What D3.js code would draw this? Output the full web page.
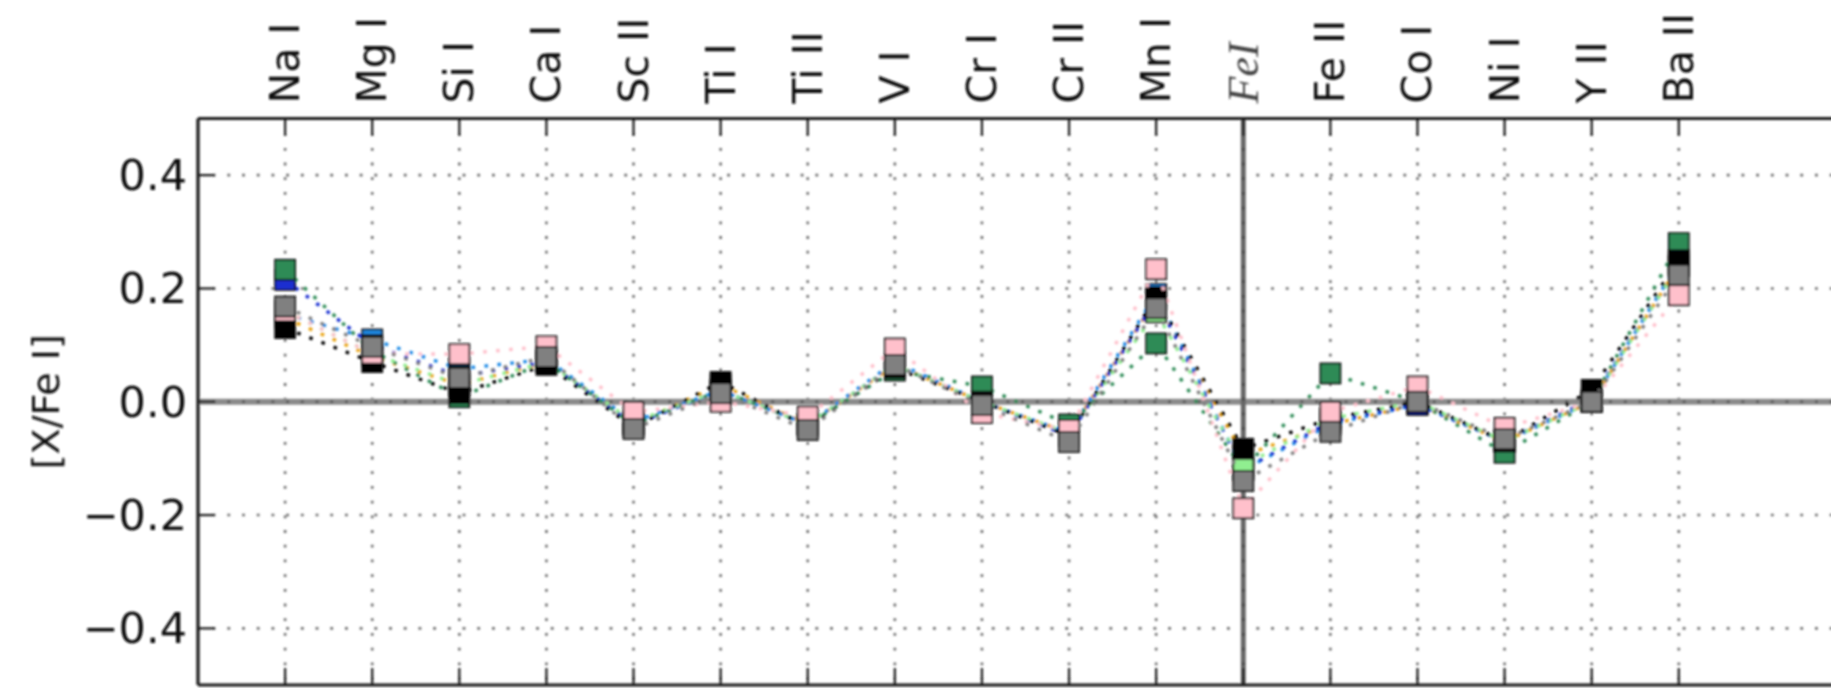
<!DOCTYPE html>
<html>
<head>
<meta charset="utf-8">
<script src="https://cdnjs.cloudflare.com/ajax/libs/d3/7.8.5/d3.min.js"></script>
<style>
  html, body { margin: 0; padding: 0; background: #fff; }
  svg { display: block; }
</style>
</head>
<body>
<svg id="chart" width="1831" height="688"></svg>
<script>
// Categories (species)
const categories = ["Na I", "Mg I", "Si I", "Ca I", "Sc II", "Ti I", "Ti II", "V I", "Cr I", "Cr II", "Mn I", "FeI", "Fe II", "Co I", "Ni I", "Y II", "Ba II"];
const refCategory = "FeI";
const yTicks = [-0.4, -0.2, 0.0, 0.2, 0.4];
const yLabel = "[X/Fe I]";

// Series values, in draw order (bottom to top)
const orangeVals     = [0.148, 0.080, 0.030, 0.070, -0.040, 0.030, -0.040, 0.065, 0.000, -0.055, 0.180, -0.095, -0.040, -0.005, -0.070, 0.000, 0.240];
const dodgerVals     = [0.155, 0.110, 0.058, 0.075, -0.035, 0.020, -0.040, 0.070, 0.000, -0.055, 0.190, -0.120, -0.040, -0.005, -0.070, 0.000, 0.245];
const blueVals       = [0.215, 0.100, 0.045, 0.070, -0.040, 0.020, -0.040, 0.065, 0.000, -0.060, 0.180, -0.120, -0.035, -0.005, -0.070, 0.005, 0.240];
const greenVals      = [0.233, 0.090, 0.008, 0.070, -0.040, 0.020, -0.040, 0.055, 0.027, -0.040, 0.103, -0.120, 0.050, 0.000, -0.090, 0.000, 0.280];
const lightgreenVals = [0.160, 0.085, 0.030, 0.070, -0.035, 0.020, -0.040, 0.065, 0.000, -0.055, 0.158, -0.113, -0.030, 0.000, -0.070, 0.000, 0.240];
const blackVals      = [0.130, 0.070, 0.015, 0.065, -0.045, 0.035, -0.045, 0.060, 0.000, -0.060, 0.185, -0.083, -0.030, 0.000, -0.070, 0.021, 0.250];
const pinkVals       = [0.160, 0.085, 0.084, 0.098, -0.018, 0.000, -0.026, 0.094, -0.020, -0.050, 0.234, -0.188, -0.018, 0.027, -0.046, 0.000, 0.188];
const grayVals       = [0.168, 0.097, 0.042, 0.079, -0.048, 0.015, -0.050, 0.065, -0.006, -0.071, 0.165, -0.140, -0.053, 0.000, -0.066, 0.000, 0.224];

const seriesNames  = ["orange", "dodgerblue", "blue", "green", "lightgreen", "black", "pink", "gray"];
const seriesColors = ["#e9a20c", "#1e8ae6", "#1a2fd0", "#2e8b57", "#90ee90", "#000000", "#ffc0cb", "#808080"];
const seriesValues = [orangeVals, dodgerVals, blueVals, greenVals, lightgreenVals, blackVals, pinkVals, grayVals];

const svg = d3.select("#chart");
const W = 1831, H = 688;
svg.append("rect").attr("width", W).attr("height", H).attr("fill", "#fff");

const defs = svg.append("defs");
defs.append("filter").attr("id", "soft")
  .attr("x", "-5%").attr("y", "-5%").attr("width", "110%").attr("height", "110%")
  .append("feGaussianBlur").attr("stdDeviation", 0.8);

const root = svg.append("g").attr("filter", "url(#soft)");

const x = d3.scaleLinear().domain([-1, categories.length + 1]).range([198, 1853]);
const y = d3.scaleLinear().domain([-0.5, 0.5]).range([685, 118.5]);
const xLeft = x.range()[0], xRight = x.range()[1];
const yTop = y.range()[1], yBot = y.range()[0];

defs.append("clipPath").attr("id", "plotclip").append("rect")
  .attr("x", xLeft).attr("y", yTop).attr("width", xRight - xLeft).attr("height", yBot - yTop);

const plot = root.append("g").attr("clip-path", "url(#plotclip)");

// Grid lines (dotted)
const gridColor = "#6e6e6e";
plot.append("g").selectAll("line").data(categories).join("line")
  .attr("x1", (d, i) => x(i)).attr("x2", (d, i) => x(i))
  .attr("y1", yTop).attr("y2", yBot)
  .attr("stroke", gridColor).attr("stroke-width", 2.6)
  .attr("stroke-dasharray", "2.8,11.9");
plot.append("g").selectAll("line").data(yTicks).join("line")
  .attr("x1", xLeft).attr("x2", xRight)
  .attr("y1", d => y(d)).attr("y2", d => y(d))
  .attr("stroke", gridColor).attr("stroke-width", 2.6)
  .attr("stroke-dasharray", "2.8,11.9");

// Reference lines
plot.append("line")
  .attr("x1", xLeft).attr("x2", xRight).attr("y1", y(0)).attr("y2", y(0))
  .attr("stroke", "#8a8a8a").attr("stroke-width", 6);
plot.append("line")
  .attr("x1", xLeft).attr("x2", xRight).attr("y1", y(0)).attr("y2", y(0))
  .attr("stroke", "#555").attr("stroke-width", 2.4)
  .attr("stroke-dasharray", "2.8,11.9");
const refIdx = categories.indexOf(refCategory);
plot.append("line")
  .attr("x1", x(refIdx)).attr("x2", x(refIdx)).attr("y1", yTop).attr("y2", yBot)
  .attr("stroke", "#666").attr("stroke-width", 5);
plot.append("line")
  .attr("x1", x(refIdx)).attr("x2", x(refIdx)).attr("y1", yTop).attr("y2", yBot)
  .attr("stroke", "#444").attr("stroke-width", 2.4)
  .attr("stroke-dasharray", "2.8,11.9");

// Series: dotted line + square markers
const line = d3.line().x((d, i) => x(i)).y(d => y(d));
const ms = 20;
seriesValues.forEach((vals, si) => {
  const g = plot.append("g").attr("class", "series-" + seriesNames[si]);
  g.append("path").datum(vals)
    .attr("d", line)
    .attr("fill", "none")
    .attr("stroke", seriesColors[si])
    .attr("stroke-width", 3.4)
    .attr("stroke-dasharray", "3.6,9.4")
    .attr("stroke-linecap", "butt");
  g.selectAll("rect").data(vals).join("rect")
    .attr("x", (d, i) => x(i) - ms / 2)
    .attr("y", d => y(d) - ms / 2)
    .attr("width", ms).attr("height", ms)
    .attr("fill", seriesColors[si])
    .attr("stroke", "#111").attr("stroke-width", 1.8);
});

// Spines
const spine = root.append("g").attr("fill", "none").attr("stroke", "#1a1a1a").attr("stroke-width", 3.2);
spine.append("line").attr("x1", xLeft).attr("x2", xRight).attr("y1", yTop).attr("y2", yTop);
spine.append("line").attr("x1", xLeft).attr("x2", xRight).attr("y1", yBot).attr("y2", yBot);
spine.append("line").attr("x1", xLeft).attr("x2", xLeft).attr("y1", yTop).attr("y2", yBot);
spine.append("line").attr("x1", xRight).attr("x2", xRight).attr("y1", yTop).attr("y2", yBot);

// Ticks (inward)
const tickLen = 17;
const ticks = root.append("g").attr("stroke", "#1a1a1a").attr("stroke-width", 2.2);
categories.forEach((c, i) => {
  ticks.append("line").attr("x1", x(i)).attr("x2", x(i)).attr("y1", yTop).attr("y2", yTop + tickLen);
  ticks.append("line").attr("x1", x(i)).attr("x2", x(i)).attr("y1", yBot).attr("y2", yBot - tickLen);
});
yTicks.forEach(v => {
  ticks.append("line").attr("x1", xLeft).attr("x2", xLeft + tickLen).attr("y1", y(v)).attr("y2", y(v));
  ticks.append("line").attr("x1", xRight).attr("x2", xRight - tickLen).attr("y1", y(v)).attr("y2", y(v));
});

// Y tick labels
const fmt = v => (v < 0 ? "\u2212" : "") + Math.abs(v).toFixed(1);
root.append("g").selectAll("text").data(yTicks).join("text")
  .attr("x", xLeft - 11).attr("y", d => y(d))
  .attr("text-anchor", "end").attr("dominant-baseline", "central")
  .attr("font-family", "DejaVu Sans").attr("font-size", 43).attr("fill", "#111")
  .text(fmt);

// X tick labels (top, rotated)
root.append("g").selectAll("text").data(categories).join("text")
  .attr("transform", (d, i) => `translate(${x(i)},${yTop - 15}) rotate(-90)`)
  .attr("text-anchor", "start").attr("dominant-baseline", "central")
  .attr("font-family", d => d === refCategory ? "Liberation Serif" : "DejaVu Sans")
  .attr("font-style", d => d === refCategory ? "italic" : "normal")
  .attr("font-size", d => d === refCategory ? 44 : 41)
  .attr("fill", d => d === refCategory ? "#444" : "#111")
  .text(d => d);

// Y axis label
root.append("text")
  .attr("transform", `translate(46,${y(0)}) rotate(-90)`)
  .attr("text-anchor", "middle").attr("dominant-baseline", "central")
  .attr("font-family", "DejaVu Sans").attr("font-size", 38).attr("fill", "#111")
  .text(yLabel);
</script>
</body>
</html>
